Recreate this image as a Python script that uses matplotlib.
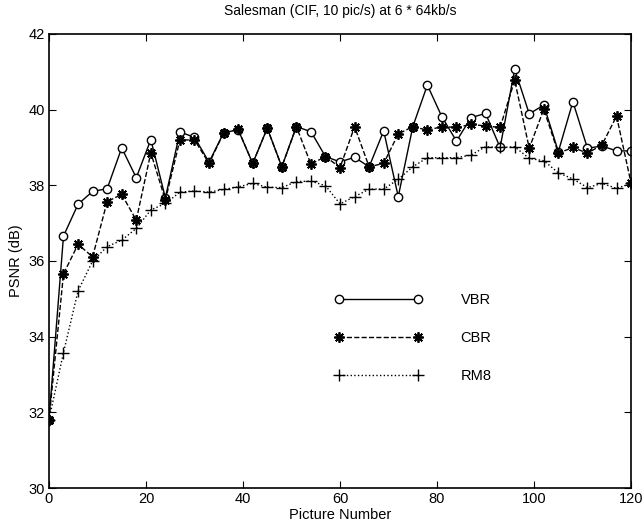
import numpy as np
import matplotlib.pyplot as plt

plt.rcParams['font.family'] = ['Liberation Sans', 'DejaVu Sans']

# picture numbers, one sample every 3 pictures
pictures = np.arange(0, 121, 3)

vbr = [31.8, 36.66, 37.50, 37.84, 37.91, 38.99, 38.20, 39.21, 37.67, 39.41,
       39.27, 38.61, 39.39, 39.47, 38.58, 39.51, 38.49, 39.55, 39.42, 38.76,
       38.62, 38.74, 38.49, 39.44, 37.70, 39.55, 40.65, 39.81, 39.17, 39.79,
       39.90, 39.00, 41.07, 39.89, 40.12, 38.89, 40.21, 38.98, 39.04, 38.91,
       38.91]
cbr = [31.8, 35.66, 36.44, 36.11, 37.57, 37.76, 37.08, 38.86, 37.61, 39.20,
       39.20, 38.58, 39.38, 39.48, 38.58, 39.51, 38.49, 39.55, 38.56, 38.76,
       38.47, 39.55, 38.49, 38.58, 39.36, 39.55, 39.46, 39.55, 39.53, 39.61,
       39.57, 39.53, 40.78, 38.98, 40.01, 38.85, 39.00, 38.85, 39.07, 39.83,
       38.05]
rm8 = [31.8, 33.58, 35.21, 36.00, 36.38, 36.55, 36.86, 37.35, 37.52, 37.82,
       37.85, 37.82, 37.89, 37.96, 38.05, 37.95, 37.94, 38.10, 38.11, 37.99,
       37.51, 37.70, 37.90, 37.90, 38.16, 38.49, 38.73, 38.73, 38.73, 38.80,
       39.02, 39.00, 39.02, 38.71, 38.65, 38.33, 38.17, 37.94, 38.05, 37.92,
       38.05]

xticks = [0, 20, 40, 60, 80, 100, 120]
yticks = [30, 32, 34, 36, 38, 40, 42]

fig = plt.figure(figsize=(6.44, 5.27), dpi=100)
ax = fig.add_axes([0.076, 0.074, 0.904, 0.8615])

ax.plot(pictures, vbr, 'k-', lw=1.0, marker='o', ms=6, mfc='white', mec='k',
        mew=1.0, label='VBR')
ax.plot(pictures, cbr, 'k--', lw=1.0, marker=(8, 2, 0), ms=7.5, mec='k',
        mew=1.3, label='CBR')
ax.plot(pictures, rm8, 'k:', lw=1.0, marker='+', ms=8, mec='k',
        mew=1.0, label='RM8')

ax.set_xlim(0, 120)
ax.set_ylim(30, 42)
ax.set_xticks(xticks)
ax.set_yticks(yticks)
ax.tick_params(direction='in', top=True, right=True, length=5, labelsize=10.5,
               pad=3)
for s in ax.spines.values():
    s.set_linewidth(1.2)

ax.set_title('Salesman (CIF, 10 pic/s) at 6 * 64kb/s', fontsize=10, pad=14)
ax.set_xlabel('Picture Number', fontsize=10.5, labelpad=1)
ax.set_ylabel('PSNR (dB)', fontsize=10.5, labelpad=4)

ax.legend(loc='upper left', bbox_to_anchor=(0.469, 0.458), frameon=False,
          numpoints=2, handlelength=6.0, handletextpad=2.6, labelspacing=1.65,
          fontsize=10.5)

fig.savefig('out.png', dpi=100)
